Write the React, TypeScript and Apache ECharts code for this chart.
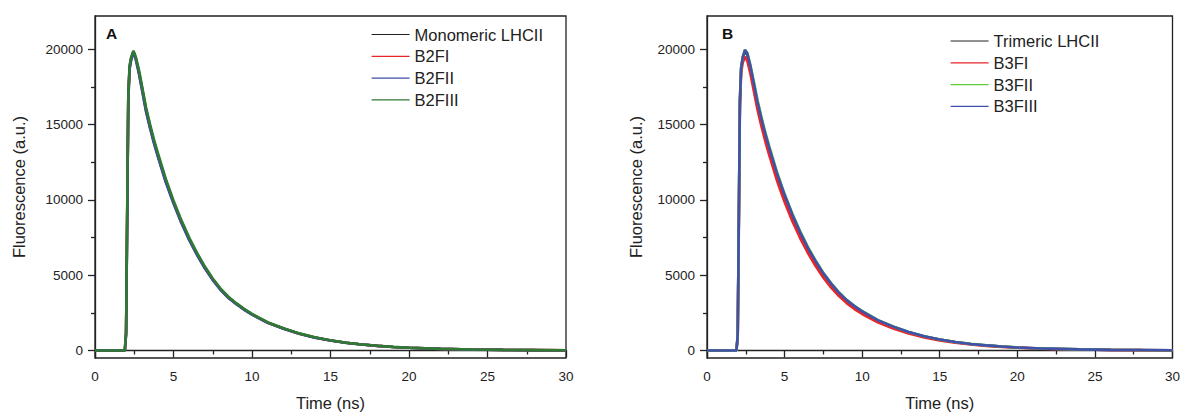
import React, { useEffect, useRef } from "react";
import * as echarts from "echarts";

// Time points (ns)
const T = [0, 1.9, 1.98, 2.05, 2.12, 2.2, 2.3, 2.45, 2.6, 2.8, 3.0, 3.25, 3.5, 3.75, 4, 4.5, 5, 5.5, 6, 6.5, 7, 7.5, 8, 8.5, 9, 9.5, 10, 11, 12, 13, 14, 15, 16, 17, 18, 19, 20, 22, 24, 26, 28, 30];

// Panel A
const monomeric = [0, 0, 1200, 9000, 16800, 18800, 19400, 19850, 19400, 18500, 17400, 16000, 14900, 13900, 13000, 11300, 9850, 8550, 7400, 6400, 5500, 4720, 4060, 3520, 3100, 2730, 2400, 1850, 1460, 1120, 860, 665, 510, 395, 305, 235, 180, 105, 60, 38, 24, 15];
const b2fi = [0, 0, 1100, 8800, 16600, 18700, 19300, 19800, 19350, 18420, 17320, 15920, 14830, 13830, 12940, 11240, 9800, 8500, 7360, 6370, 5470, 4700, 4040, 3500, 3085, 2715, 2390, 1840, 1452, 1114, 856, 662, 508, 393, 303, 234, 179, 104, 60, 38, 24, 15];
const b2fii = [0, 0, 1000, 8600, 16500, 18650, 19250, 19780, 19300, 18350, 17240, 15840, 14750, 13760, 12870, 11180, 9750, 8460, 7320, 6330, 5440, 4670, 4010, 3480, 3065, 2700, 2375, 1830, 1444, 1108, 851, 658, 505, 391, 302, 233, 178, 104, 59, 37, 23, 15];
const b2fiii = [0, 0, 1300, 9200, 16900, 18900, 19450, 19900, 19480, 18620, 17540, 16140, 15040, 14030, 13130, 11420, 9960, 8650, 7490, 6480, 5570, 4780, 4110, 3565, 3140, 2765, 2430, 1875, 1480, 1135, 872, 674, 517, 400, 309, 238, 182, 106, 61, 38, 24, 15];

// Panel B
const trimeric = [0, 0, 1000, 8500, 16500, 18700, 19400, 19900, 19600, 18750, 17700, 16400, 15300, 14300, 13400, 11700, 10250, 8950, 7800, 6780, 5880, 5080, 4400, 3810, 3320, 2920, 2580, 2000, 1570, 1210, 930, 720, 555, 430, 335, 260, 200, 118, 70, 42, 27, 18];
const b3fi = [0, 0, 900, 8000, 16000, 18400, 19100, 19500, 19200, 18350, 17300, 16000, 14900, 13900, 13000, 11300, 9850, 8580, 7460, 6470, 5600, 4830, 4170, 3610, 3140, 2750, 2420, 1870, 1460, 1120, 860, 665, 510, 395, 305, 237, 182, 107, 63, 38, 24, 16];
const b3fii = [0, 0, 1100, 8700, 16700, 18800, 19500, 19950, 19750, 18950, 17950, 16650, 15540, 14520, 13610, 11880, 10400, 9090, 7920, 6880, 5970, 5160, 4470, 3870, 3370, 2965, 2620, 2030, 1595, 1230, 945, 731, 564, 437, 340, 264, 203, 120, 71, 43, 27, 18];
const b3fiii = [0, 0, 1050, 8600, 16600, 18750, 19450, 19950, 19700, 18870, 17830, 16530, 15420, 14410, 13500, 11790, 10330, 9020, 7860, 6830, 5925, 5120, 4435, 3840, 3345, 2943, 2600, 2015, 1582, 1220, 937, 726, 560, 433, 338, 262, 201, 119, 70, 42, 27, 18];

const yMajor = [0, 5000, 10000, 15000, 20000];
const yMinor = [2500, 7500, 12500, 17500];

const FONT = "'Liberation Sans', Arial, sans-serif";
const AX = "#222";

function pairs(v: number[]) {
  return T.map((t, i) => [t, v[i]]);
}

export default function App() {
  const ref = useRef<HTMLDivElement>(null);
  useEffect(() => {
    if (!ref.current) return;
    const chart = echarts.init(ref.current, undefined, { renderer: "svg" });
    const grids = [
      { left: 95, top: 16, width: 471, height: 344 },
      { left: 707, top: 16, width: 471, height: 344 },
    ];
    const xAxis = [0, 1].map((g) => ({
      type: "value",
      gridIndex: g,
      min: 0,
      max: 30,
      interval: 5,
      name: "Time (ns)",
      nameLocation: "middle",
      nameGap: 36,
      nameTextStyle: { fontFamily: FONT, fontSize: 16.5, color: AX },
      axisLine: { show: true, lineStyle: { color: AX, width: 1.3 } },
      axisTick: { show: true, inside: false, length: 7, lineStyle: { color: AX, width: 1.3 } },
      minorTick: { show: true, splitNumber: 2, length: 4, lineStyle: { color: AX, width: 1.3 } },
      axisLabel: { fontFamily: FONT, fontSize: 13.5, color: AX, margin: 11 },
      splitLine: { show: false },
    }));
    const yMain = (g: number, gap: number) => ({
      type: "value",
      gridIndex: g,
      min: -500,
      max: 22200,
      position: "left",
      name: "Fluorescence (a.u.)",
      nameLocation: "middle",
      nameGap: gap,
      nameTextStyle: { fontFamily: FONT, fontSize: 16.5, color: AX },
      axisLine: { show: true, onZero: false, lineStyle: { color: AX, width: 1.3 } },
      axisTick: { show: true, inside: false, length: 7, customValues: yMajor, lineStyle: { color: AX, width: 1.3 } },
      axisLabel: {
        fontFamily: FONT,
        fontSize: 13.5,
        color: AX,
        margin: 12,
        customValues: yMajor,
        formatter: (v: number) => String(v),
      },
      splitLine: { show: false },
    });
    const yMin = (g: number) => ({
      type: "value",
      gridIndex: g,
      min: -500,
      max: 22200,
      position: "left",
      axisLine: { show: false, onZero: false },
      axisTick: { show: true, inside: false, length: 4, customValues: yMinor, lineStyle: { color: AX, width: 1.3 } },
      axisLabel: { show: false },
      splitLine: { show: false },
    });
    const mk = (name: string, v: number[], color: string, xi: number, yi: number, w = 2.6) => ({
      type: "line",
      name,
      data: pairs(v),
      xAxisIndex: xi,
      yAxisIndex: yi,
      showSymbol: false,
      symbol: "none",
      smooth: false,
      lineStyle: { color, width: w },
      itemStyle: { color },
    });
    const legendBase = {
      orient: "vertical",
      itemWidth: 38,
      itemHeight: 14,
      itemGap: 4.8,
      textStyle: { fontFamily: FONT, fontSize: 16.5, color: AX },
      itemStyle: { opacity: 0 },
      lineStyle: { width: 1.2, opacity: 1 },
    };
    chart.setOption({
      animation: false,
      backgroundColor: "#fff",
      grid: grids.map((g) => ({ ...g, show: true, borderColor: AX, borderWidth: 1.3, backgroundColor: "transparent" })),
      xAxis,
      yAxis: [yMain(0, 68), yMin(0), yMain(1, 63), yMin(1)],
      legend: [
        { ...legendBase, left: 366, top: 21, data: ["Monomeric LHCII", "B2FI", "B2FII", "B2FIII"] },
        { ...legendBase, left: 945, top: 27.5, data: ["Trimeric LHCII", "B3FI", "B3FII", "B3FIII"] },
      ],
      graphic: [
        { type: "text", left: 106, top: 25, style: { text: "A", fontFamily: FONT, fontWeight: "bold", fontSize: 15.5, fill: "#111" } },
        { type: "text", left: 722, top: 25, style: { text: "B", fontFamily: FONT, fontWeight: "bold", fontSize: 15.5, fill: "#111" } },
      ],
      series: [
        mk("Monomeric LHCII", monomeric, "#222222", 0, 0),
        mk("B2FI", b2fi, "#e8262a", 0, 0),
        mk("B2FII", b2fii, "#3d4fa3", 0, 0),
        mk("B2FIII", b2fiii, "#2f7a33", 0, 0),
        mk("Trimeric LHCII", trimeric, "#222222", 1, 2),
        mk("B3FI", b3fi, "#e8262a", 1, 2),
        mk("B3FII", b3fii, "#5ccc3c", 1, 2),
        mk("B3FIII", b3fiii, "#4050ad", 1, 2),
      ],
    });
    return () => chart.dispose();
  }, []);
  return <div ref={ref} style={{ position: "fixed", left: 0, top: 0, width: 1183, height: 416 }} />;
}
